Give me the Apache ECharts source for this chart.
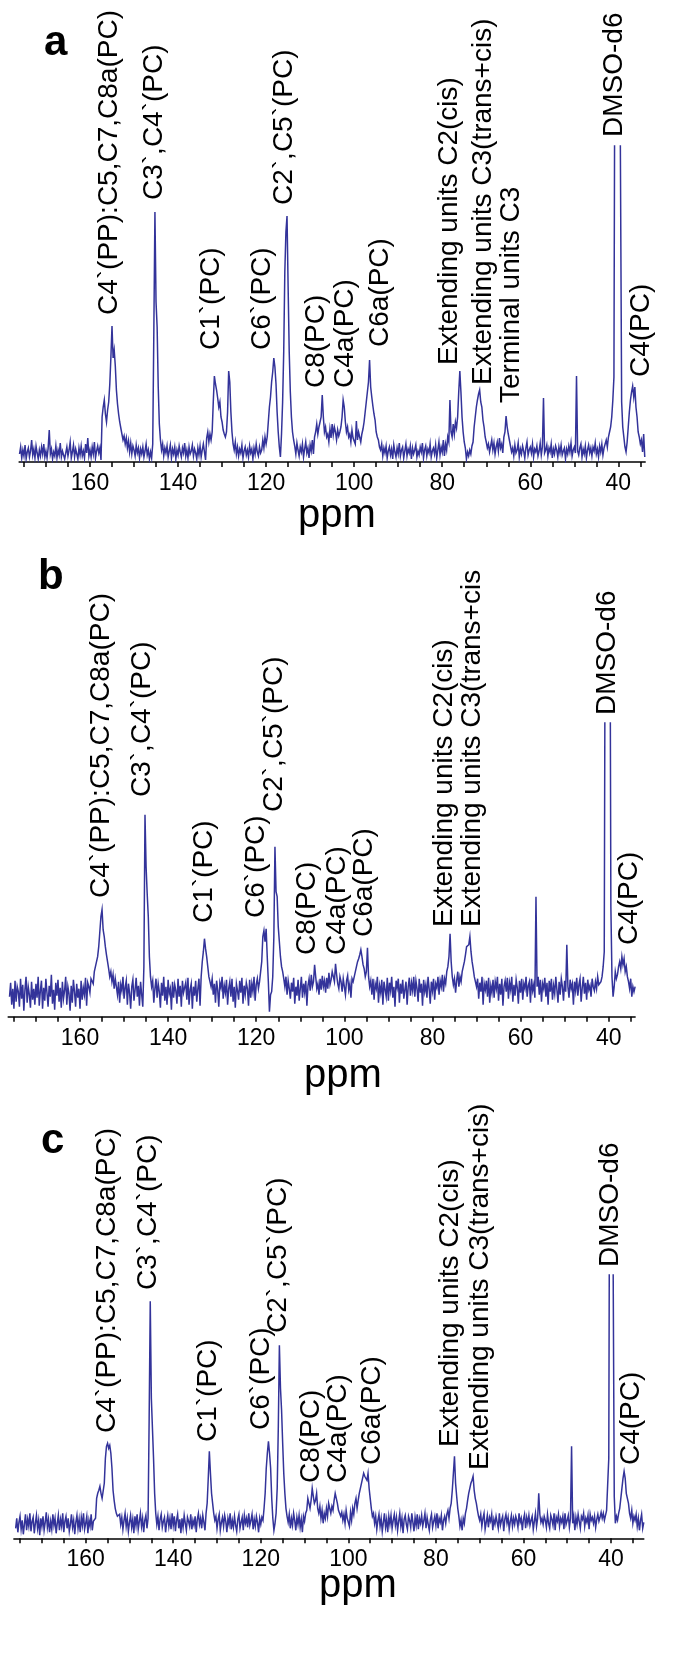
<!DOCTYPE html>
<html><head><meta charset="utf-8">
<script src="https://cdn.jsdelivr.net/npm/echarts@6/dist/echarts.min.js"></script>
<style>html,body{margin:0;padding:0;background:#fff}#c{width:677px;height:1662px}</style>
</head><body><div id="c"></div>
<script>
// sampling grid of the spectra (ppm), 0.25 ppm steps from 176 ppm downward
const ppmStart = 176, ppmStep = 0.25;

// intensities (arbitrary units), panel a
const specA = [
8,15,4,12,6,17,3,10, 14,5,11,22,7,13,4,16, 9,3,12,6,15,8,18,5, 11,4,14,32,8,13,3,10,
6,16,4,12,7,19,5,11, 13,3,9,15,6,12,20,4, 10,17,5,13,8,3,14,7, 16,6,11,4,18,9,24,6,
12,5,15,8,20,4,11,16, 9,14,2,45,55,62,48,40, 52,60,78,105,136,104,112,96, 72,58,48,40,34,28,22,26,
18,24,14,21,10,19,8,16, 12,6,17,9,14,4,13,8, 15,5,11,18,7,12,3,10, 4,18,130,250,160,135,75,38,
22,12,18,6,14,9,16,5, 11,17,4,13,8,15,3,12, 7,16,10,5,14,9,19,6, 12,4,15,8,11,17,6,13,
9,3,14,7,16,5,12,18, 10,2,24,30,20,28,22,30, 60,86,78,72,64,55,60,45, 40,32,28,25,30,50,91,80,
50,30,18,12,20,8,15,6, 13,9,17,4,11,15,7,12, 5,16,9,13,3,14,8,18, 10,6,15,9,12,22,14,25,
18,25,40,55,65,80,90,104, 95,78,50,30,15,5,28,60, 110,190,230,246,175,110,70,45, 30,22,16,8,19,12,6,15,
10,18,5,13,20,9,14,4, 17,11,22,8,25,30,38,28, 35,40,45,67,45,30,35,25, 28,20,33,24,38,27,35,30,
22,32,26,30,35,45,62,55, 40,30,35,25,28,20,32,24, 26,18,41,22,30,25,20,28, 33,40,50,60,70,80,102,75,
65,56,48,42,30,25,22,15, 12,18,6,14,9,16,4,11, 15,7,13,3,17,10,5,14, 8,19,6,12,15,4,11,18,
6,13,9,16,3,14,8,12, 17,5,11,7,15,10,19,4, 12,16,6,13,9,18,5,11, 14,8,17,4,12,20,7,15,
10,22,6,18,12,25,20,62, 30,25,38,28,40,34,45,70, 91,70,45,30,20,14,3,10, 6,12,8,16,20,35,45,55,
62,68,72,60,55,42,35,25, 20,14,18,10,16,22,12,19, 8,15,20,11,24,14,18,9, 25,30,46,35,28,22,16,10,
14,6,17,9,12,19,5,13, 8,16,11,4,14,20,7,12, 15,9,18,5,13,10,16,6, 11,19,7,15,64,9,12,17,
6,14,10,18,4,13,8,16, 12,5,15,9,17,7,11,14, 3,13,8,16,10,19,6,12, 15,9,86,11,7,14,18,5,
13,8,16,4,12,17,9,14, 6,15,11,19,8,13,5,16, 10,18,7,14,18,22,15,25, 30,35,45,62,85,500,500,500,
500,500,500,60,35,25,15,10, 20,35,50,62,70,76,65,75, 55,45,30,25,18,22,10,28, 5
];

// panel b
const specB = [
20,34,12,28,8,36,15,30, 25,10,38,18,32,6,27,40, 14,30,22,9,35,17,28,12, 33,19,40,11,26,36,8,29,
16,38,24,10,31,20,42,13, 27,7,34,21,37,15,29,9, 35,18,26,40,12,30,23,6, 31,14,37,25,10,33,19,28,
8,36,17,29,22,39,11,34, 30,24,38,40,33,45,50,55, 60,70,85,100,107,87,80,70, 62,55,48,40,45,35,42,28,
38,30,22,35,14,32,26,40, 18,29,36,12,33,24,8,30, 37,16,27,39,20,31,11,35, 22,10,50,202,150,123,100,60,
40,30,36,14,28,38,19,33, 25,9,34,21,40,16,30,12, 37,23,28,7,35,19,32,26, 13,38,20,31,10,36,24,29,
34,17,39,12,27,33,8,30, 21,36,15,28,38,11,40,55, 65,78,68,60,50,40,35,30, 38,22,33,14,36,27,10,34,
29,40,18,31,24,37,12,28, 35,20,38,15,30,9,33,26, 17,36,24,39,13,31,22,34, 28,11,37,19,33,25,40,16,
32,38,28,35,45,55,80,86, 75,88,60,35,5,22,25,40, 80,170,125,120,90,75,60,50, 45,38,30,40,22,36,28,18,
34,25,39,13,30,21,37,16, 28,40,19,33,24,36,11,31, 38,26,42,30,35,52,40,28, 33,22,38,27,41,30,36,24,
39,28,44,32,37,45,40,35, 53,42,33,28,40,35,25,38, 30,22,36,41,27,33,19,38, 35,40,45,50,55,58,62,67,
60,52,48,40,45,69,40,30, 36,22,38,17,33,28,40,14, 31,24,37,12,35,27,20,39, 16,34,26,40,19,30,10,36,
29,38,14,33,23,37,18,27, 35,12,30,39,21,34,26,40, 20,36,28,15,38,24,33,11, 37,25,32,19,40,28,13,35,
26,38,17,33,29,40,22,36, 30,42,25,38,33,45,50,60, 83,55,40,32,38,24,36,45, 30,40,35,45,50,55,62,70,
70,72,80,65,55,48,40,35, 30,38,18,34,25,40,12,33, 27,36,20,39,14,31,24,37, 19,35,28,40,16,33,22,38,
11,30,36,25,39,18,34,27, 40,15,32,21,37,29,13,36, 24,38,17,33,28,40,20,31, 35,14,38,26,32,19,120,30,
40,22,37,15,33,28,39,20, 34,12,36,25,38,17,31,23, 40,27,14,35,22,38,30,16, 36,25,72,30,19,37,28,33,
12,35,26,39,21,32,38,15, 29,40,23,34,17,37,27,31, 20,38,30,26,35,28,40,32, 30,35,40,50,65,500,500,500,
500,500,110,40,20,30,45,38, 42,50,55,48,60,52,58,45, 50,40,35,28,38,20,30,25, 30
];

// panel c
const specC = [
10,20,6,16,22,9,18,4, 14,24,8,19,12,25,7,17, 21,5,15,23,10,18,3,20, 12,22,8,16,26,11,19,6,
17,9,24,13,20,5,15,23, 8,19,12,25,6,17,22,10, 20,7,14,24,11,18,4,16, 23,10,19,6,21,13,25,9,
15,22,5,18,12,24,8,17, 15,20,40,45,48,52,45,40, 38,55,80,92,95,90,93,85, 70,48,38,30,25,22,20,24,
14,21,9,18,25,12,20,7, 16,23,11,19,5,22,13,24, 9,17,25,12,20,6,18,23, 10,20,120,237,140,110,80,45,
25,14,22,8,19,24,11,17, 21,6,16,23,12,20,9,25, 13,22,7,18,24,10,19,5, 20,11,23,15,8,21,17,12,
24,9,18,13,22,6,19,25, 14,20,10,23,16,8,25,35, 60,87,65,45,35,25,18,22, 10,19,24,8,16,21,12,23,
17,6,20,14,25,9,18,11, 22,13,7,19,24,10,16,21, 8,23,15,20,11,25,13,18, 24,9,19,12,22,16,6,20,
14,21,18,30,45,70,85,97, 85,70,40,20,8,15,25,50, 110,193,150,128,95,65,45,30, 22,16,24,10,20,13,25,18,
8,21,14,23,11,19,6,22, 17,25,28,40,35,30,38,50, 42,35,38,45,30,25,32,20, 28,15,25,20,30,22,35,30,
25,32,28,38,45,40,35,28, 30,22,26,18,24,15,28,20, 22,12,26,18,30,24,35,40, 30,38,45,50,55,60,65,62,
60,58,65,50,40,30,22,25, 15,22,9,18,24,12,20,7, 16,25,11,19,6,22,14,23, 10,18,24,13,21,8,17,25,
12,20,5,19,23,14,9,22, 18,11,25,16,7,21,13,24, 9,20,15,23,12,18,25,10, 21,14,8,19,24,11,17,22,
13,25,10,20,16,23,8,18, 22,15,24,28,20,30,35,48, 65,82,55,42,30,22,12,18, 8,20,15,25,30,38,45,50,
55,58,62,48,40,35,28,22, 18,24,12,20,25,9,16,23, 11,21,17,24,8,19,14,22, 20,10,25,13,18,22,7,19,
24,15,21,9,17,23,12,20, 14,22,18,11,25,16,20,8, 19,24,10,21,15,23,13,18, 22,9,17,25,12,20,45,24,
16,20,14,22,18,11,24,15, 10,23,19,13,25,8,21,17, 24,12,20,16,22,9,25,14, 18,23,11,20,92,15,22,8,
21,14,24,17,10,22,19,25, 12,20,16,23,9,24,18,21, 15,22,11,19,24,17,21,26, 20,25,18,23,28,30,80,500,
500,500,500,42,15,22,18,25, 30,40,50,60,67,60,45,40, 35,25,20,28,15,22,18,24, 12,20,8,18,24,10,16
];

// axis ticks and tick labels (ppm)
const tickValues = [35,40,45,50,55,60,65,70,75,80,85,90,95,100,105,110,115,120,125,130,135,140,145,150,155,160,165,170,175];
const tickLabels = [40,60,80,100,120,140,160];

// peak assignments: [text, ppm]
const labelsA = [
  ["C4`(PP):C5,C7,C8a(PC)", 155.7], ["C3`,C4`(PC)", 145.5], ["C1`(PC)", 132.5], ["C6`(PC)", 120.9],
  ["C2`,C5`(PC)", 115.9], ["C8(PC)", 108.7], ["C4a(PC)", 102.1], ["C6a(PC)", 94.1],
  ["Extending units C2(cis)", 78.5], ["Extending units C3(trans+cis)", 70.7], ["Terminal units C3", 64.4],
  ["DMSO-d6", 41.0], ["C4(PC)", 34.9]
];
const labelsB = [
  ["C4`(PP):C5,C7,C8a(PC)", 155.2], ["C3`,C4`(PC)", 145.9], ["C1`(PC)", 131.9], ["C6`(PC)", 120.1],
  ["C2`,C5`(PC)", 116.0], ["C8(PC)", 108.3], ["C4a(PC)", 101.7], ["C6a(PC)", 95.5],
  ["Extending units C2(cis)", 77.4], ["Extending units C3(trans+cis", 71.0],
  ["DMSO-d6", 40.4], ["C4(PC)", 35.4]
];
const labelsC = [
  ["C4`(PP):C5,C7,C8a(PC)", 155.1], ["C3`,C4`(PC)", 145.8], ["C1`(PC)", 132.1], ["C6`(PC)", 120.0],
  ["C2`,C5`(PC)", 116.1], ["C8(PC)", 108.5], ["C4a(PC)", 102.4], ["C6a(PC)", 94.6],
  ["Extending units C2(cis)", 76.8], ["Extending units C3(trans+cis)", 69.9],
  ["DMSO-d6", 40.2], ["C4(PC)", 35.4]
];

// ---------- layout ----------
const FONT = '"Liberation Sans", Arial, Helvetica, sans-serif';
const LINE_COLOR = '#33339a';
const panels = [
  { spec: specA, labels: labelsA, letter: 'a', xmin: 33.9, xmax: 176.1, ymax: 316,
    grid: { left: 19.1, top: 146, width: 626.1, height: 316 },
    letterPos: [44, 43], ppmPos: [337, 516],
    labelBottoms: [315, 200, 350, 350, 205, 388, 388, 347, 365, 385, 403, 137, 377] },
  { spec: specB, labels: labelsB, letter: 'b', xmin: 34.0, xmax: 176.3, ymax: 293.7,
    grid: { left: 8.2, top: 723, width: 626.9, height: 293.7 },
    letterPos: [38, 577], ppmPos: [343, 1076],
    labelBottoms: [898, 797, 923, 918, 812, 955, 955, 937, 927, 927, 715, 945] },
  { spec: specC, labels: labelsC, letter: 'c', xmin: 32.5, xmax: 176.4, ymax: 263.3,
    grid: { left: 13.9, top: 1275, width: 629.9, height: 263.3 },
    letterPos: [41, 1141], ppmPos: [358, 1586],
    labelBottoms: [1433, 1290, 1442, 1430, 1333, 1483, 1483, 1465, 1447, 1470, 1267, 1465] }
];

const chart = echarts.init(document.getElementById('c'), null, { renderer: 'canvas', width: 677, height: 1662 });
const option = { animation: false, backgroundColor: '#ffffff', grid: [], xAxis: [], yAxis: [], series: [] };
panels.forEach((p, i) => {
  option.grid.push(Object.assign({ containLabel: false }, p.grid));
  option.xAxis.push({
    type: 'value', gridIndex: i, inverse: true, min: p.xmin, max: p.xmax,
    axisLine: { show: true, onZero: false, lineStyle: { color: '#000', width: 1.5 } },
    axisTick: { show: true, inside: false, length: 5, lineStyle: { color: '#000', width: 1.5 }, customValues: tickValues },
    axisLabel: { show: true, margin: 10, color: '#000', fontSize: 23, fontFamily: FONT, customValues: tickLabels },
    splitLine: { show: false }
  });
  option.yAxis.push({ type: 'value', gridIndex: i, min: 0, max: p.ymax, show: false });
  option.series.push({
    type: 'line', xAxisIndex: i, yAxisIndex: i, clip: true, silent: true,
    showSymbol: false, symbol: 'none',
    lineStyle: { color: LINE_COLOR, width: 1.5, join: 'miter' },
    data: p.spec.map((v, k) => [ppmStart - ppmStep * k, v])
  });
});
chart.setOption(option);

const elements = [];
panels.forEach((p, i) => {
  elements.push({ type: 'text', x: p.letterPos[0], y: p.letterPos[1],
    style: { text: p.letter, font: 'bold 42px ' + FONT, fill: '#000', align: 'left', verticalAlign: 'middle' } });
  elements.push({ type: 'text', x: p.ppmPos[0], y: p.ppmPos[1],
    style: { text: 'ppm', font: '40px ' + FONT, fill: '#000', align: 'center', verticalAlign: 'middle' } });
  p.labels.forEach((l, k) => {
    const px = chart.convertToPixel({ xAxisIndex: i }, l[1]);
    elements.push({ type: 'text', x: px, y: p.labelBottoms[k], rotation: Math.PI / 2,
      style: { text: l[0], font: '28px ' + FONT, fill: '#000', align: 'left', verticalAlign: 'middle' } });
  });
});
chart.setOption({ graphic: { elements: elements } });
</script>
</body></html>
